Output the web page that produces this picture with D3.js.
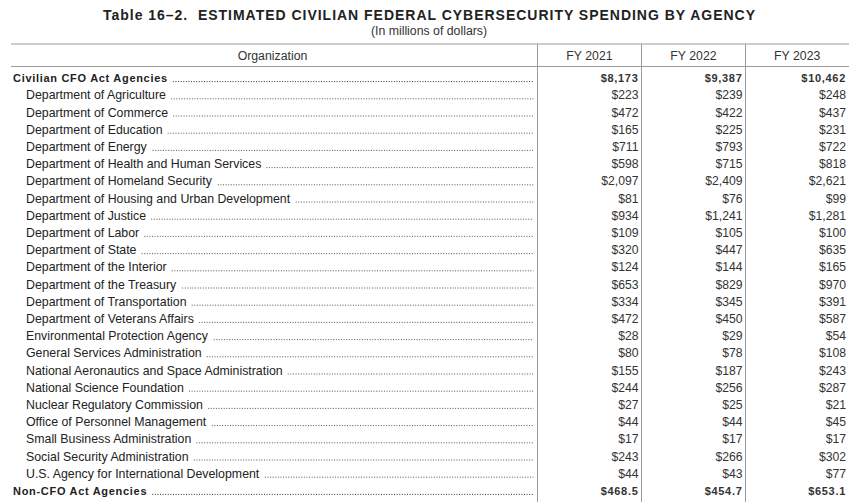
<!DOCTYPE html>
<html>
<head>
<meta charset="utf-8">
<script src="https://cdn.jsdelivr.net/npm/d3@7"></script>
<style>
  html, body { margin: 0; padding: 0; background: #fff; }
  svg { display: block; font-family: "Liberation Sans", Arial, Helvetica, sans-serif; }
</style>
</head>
<body>
<svg id="chart" width="866" height="502"></svg>
<script>
const titleText = "Table 16\u20132.  ESTIMATED CIVILIAN FEDERAL CYBERSECURITY SPENDING BY AGENCY";
const subtitleText = "(In millions of dollars)";
const headerLabels = ["Organization", "FY 2021", "FY 2022", "FY 2023"];
const years = ["FY 2021", "FY 2022", "FY 2023"];

const organizations = [
  "Civilian CFO Act Agencies",
  "Department of Agriculture",
  "Department of Commerce",
  "Department of Education",
  "Department of Energy",
  "Department of Health and Human Services",
  "Department of Homeland Security",
  "Department of Housing and Urban Development",
  "Department of Justice",
  "Department of Labor",
  "Department of State",
  "Department of the Interior",
  "Department of the Treasury",
  "Department of Transportation",
  "Department of Veterans Affairs",
  "Environmental Protection Agency",
  "General Services Administration",
  "National Aeronautics and Space Administration",
  "National Science Foundation",
  "Nuclear Regulatory Commission",
  "Office of Personnel Management",
  "Small Business Administration",
  "Social Security Administration",
  "U.S. Agency for International Development",
  "Non-CFO Act Agencies"
];
const isTotal = [true, false, false, false, false, false, false, false, false, false, false, false, false,
  false, false, false, false, false, false, false, false, false, false, false, true];

const fy2021 = [8173, 223, 472, 165, 711, 598, 2097, 81, 934, 109, 320, 124, 653, 334, 472, 28, 80, 155, 244, 27, 44, 17, 243, 44, 468.5];
const fy2022 = [9387, 239, 422, 225, 793, 715, 2409, 76, 1241, 105, 447, 144, 829, 345, 450, 29, 78, 187, 256, 25, 44, 17, 266, 43, 454.7];
const fy2023 = [10462, 248, 437, 231, 722, 818, 2621, 99, 1281, 100, 635, 165, 970, 391, 587, 54, 108, 243, 287, 21, 45, 17, 302, 77, 653.1];

const rows = organizations.map((name, i) => ({
  name, total: isTotal[i], values: [fy2021[i], fy2022[i], fy2023[i]]
}));

const svg = d3.select("#chart");
const tableLeft = 11, tableRight = 849;
const ruleTop = 44, ruleHeader = 66.5, tableBottom = 502;

// column scale: organization column + three year columns
const colScale = d3.scaleOrdinal()
  .domain(headerLabels)
  .range([[tableLeft, 537.5], [537.5, 641.5], [641.5, 745.5], [745.5, tableRight]]);

// row scale
const y = d3.scaleBand()
  .domain(d3.range(rows.length))
  .range([69.5, 69.5 + 17.2 * rows.length])
  .paddingInner(0).paddingOuter(0);

const fmt = v => "$" + (Number.isInteger(v) ? d3.format(",")(v) : d3.format(",.1f")(v));

// Title
svg.append("text")
  .attr("x", 429).attr("y", 20)
  .attr("text-anchor", "middle")
  .attr("font-size", 14).attr("font-weight", "bold")
  .attr("fill", "#222")
  .attr("textLength", 652).attr("lengthAdjust", "spacing")
  .style("white-space", "pre")
  .text(titleText);

svg.append("text")
  .attr("x", 429).attr("y", 35)
  .attr("text-anchor", "middle")
  .attr("font-size", 12.3).attr("fill", "#333")
  .text(subtitleText);

// Rules
const lineColor = "#9a9a9a";
svg.append("line").attr("x1", tableLeft).attr("x2", tableRight)
  .attr("y1", ruleTop).attr("y2", ruleTop).attr("stroke", lineColor).attr("stroke-width", 1);
svg.append("line").attr("x1", tableLeft).attr("x2", tableRight)
  .attr("y1", ruleHeader).attr("y2", ruleHeader).attr("stroke", lineColor).attr("stroke-width", 1);
headerLabels.slice(1).forEach(h => {
  const x0 = colScale(h)[0];
  svg.append("line").attr("x1", x0).attr("x2", x0)
    .attr("y1", ruleTop).attr("y2", tableBottom)
    .attr("stroke", lineColor).attr("stroke-width", 1);
});

// Header labels
svg.selectAll("text.header").data(headerLabels).join("text")
  .attr("class", "header")
  .attr("x", d => d === "Organization" ? 272.5 : (colScale(d)[0] + colScale(d)[1]) / 2)
  .attr("y", 60)
  .attr("text-anchor", "middle")
  .attr("font-size", 12.3).attr("fill", "#333")
  .text(d => d);

// Rows
const g = svg.append("g");
const rowG = g.selectAll("g.row").data(rows).join("g")
  .attr("class", "row")
  .attr("transform", (d, i) => `translate(0,${y(i) + y.bandwidth() / 2 + 4})`);

const labels = rowG.append("text")
  .attr("x", d => d.total ? 13 : 26)
  .attr("y", 0)
  .attr("font-size", d => d.total ? 11 : 12.35)
  .attr("font-weight", d => d.total ? "bold" : "normal")
  .attr("letter-spacing", d => d.total ? "0.7px" : null)
  .attr("fill", "#222")
  .text(d => d.name);

// dot leaders
labels.each(function(d) {
  const bb = this.getBBox();
  const start = bb.x + bb.width + 5;
  d3.select(this.parentNode).append("line")
    .attr("x1", start).attr("x2", 533.5)
    .attr("y1", -0.5).attr("y2", -0.5)
    .attr("stroke", d.total ? "#333" : "#555")
    .attr("stroke-width", 1)
    .attr("stroke-dasharray", "1 1.6");
});

// values
years.forEach((yr, j) => {
  const right = colScale(yr)[1] - 3;
  rowG.append("text")
    .attr("x", right)
    .attr("y", 0)
    .attr("text-anchor", "end")
    .attr("font-size", d => d.total ? 11 : 12.2)
    .attr("font-weight", d => d.total ? "bold" : "normal")
    .attr("letter-spacing", d => d.total ? "0.7px" : null)
    .attr("fill", "#333")
    .text(d => fmt(d.values[j]));
});
</script>
</body>
</html>
